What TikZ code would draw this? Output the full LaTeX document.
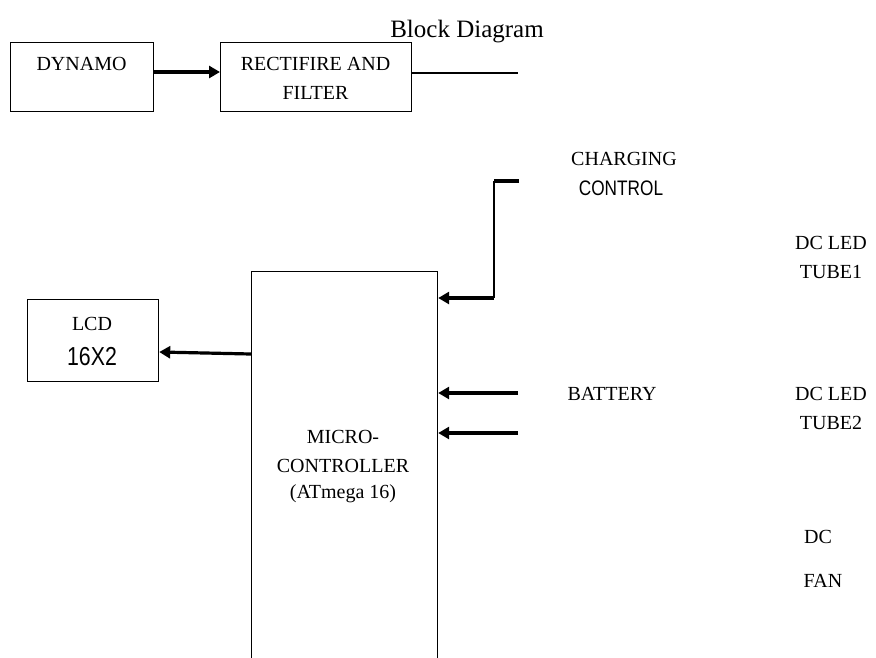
\documentclass[tikz,border=0pt]{standalone}
\usepackage{fontspec}
\setmainfont{Liberation Serif}
\newfontfamily\narrowsans[FakeStretch=0.82]{Liberation Sans}
\usetikzlibrary{arrows.meta}
\tikzset{
  box/.style={draw, line width=1.2pt, inner sep=0pt, anchor=north west},
  lbl/.style={inner sep=0pt, font=\fontsize{20}{23}\selectfont},
  nlbl/.style={inner sep=0pt, font=\narrowsans\fontsize{21}{24}\selectfont},
  thickarrow/.style={line width=3.2pt, -{Triangle[length=11pt,width=12pt]}},
  thickline/.style={line width=3.2pt},
  thinline/.style={line width=1.3pt},
}
\begin{document}
\begin{tikzpicture}[x=1pt,y=-1pt]
\useasboundingbox (0,0) rectangle (876,657);
\fill[white] (0,0) rectangle (876,657);

\node[inner sep=0pt, font=\fontsize{25}{28}\selectfont] (title) at (467,32) {Block Diagram};

% boxes
\node[box, minimum width=143pt, minimum height=69pt] (dyn) at (10,42) {};
\node[box, minimum width=191pt, minimum height=69pt] (rect) at (220,42) {};
\node[box, minimum width=131pt, minimum height=82pt] (lcd) at (27,299) {};
\node[box, minimum width=186pt, minimum height=400pt] (mcu) at (251,271) {};

% texts
\node[lbl] (tdyn) at (81.5,64) {DYNAMO};
\node[lbl] (trect1) at (315.5,64) {RECTIFIRE AND};
\node[lbl] (trect2) at (315.5,93) {FILTER};
\node[lbl] (tchg1) at (624,159) {CHARGING};
\node[nlbl] (tchg2) at (621,188) {CONTROL};
\node[lbl] (tled1a) at (831,243) {DC LED};
\node[lbl] (tled1b) at (831,272) {TUBE1};
\node[lbl] (tlcd1) at (92,324) {LCD};
\node[inner sep=0pt, font=\narrowsans\fontsize{26}{30}\selectfont] (tlcd2) at (92,357) {16X2};
\node[lbl] (tbat) at (612,394) {BATTERY};
\node[lbl] (tled2a) at (831,394) {DC LED};
\node[lbl] (tled2b) at (831,423) {TUBE2};
\node[lbl] (tmcu1) at (343,437) {MICRO-};
\node[lbl] (tmcu2) at (343,466) {CONTROLLER};
\node[lbl] (tmcu3) at (343,494) {(ATmega 16)};
\node[lbl] (tdc) at (818,537) {DC};
\node[lbl] (tfan) at (823,581) {FAN};

% free ends
\coordinate (rectout) at (518,73);
\coordinate (chgend) at (519,181);
\coordinate (chgbend1) at (494,181);
\coordinate (chgbend2) at (494,298);
\coordinate (bat1) at (518,393);
\coordinate (bat2) at (518,433);

% connectors
\draw[thickarrow] (dyn.east |- 0,72) -- (rect.west |- 0,72);
\draw[thinline] (rect.east |- rectout) -- (rectout);
\draw[thickline] (chgend) -- (chgbend1);
\draw[thinline] (chgbend1) -- (chgbend2);
\draw[thickarrow] (chgbend2) -- (mcu.east |- chgbend2);
\draw[thickarrow] (mcu.west |- 0,354) -- (lcd.east |- 0,352);
\draw[thickarrow] (bat1) -- (mcu.east |- bat1);
\draw[thickarrow] (bat2) -- (mcu.east |- bat2);
\end{tikzpicture}
\end{document}
